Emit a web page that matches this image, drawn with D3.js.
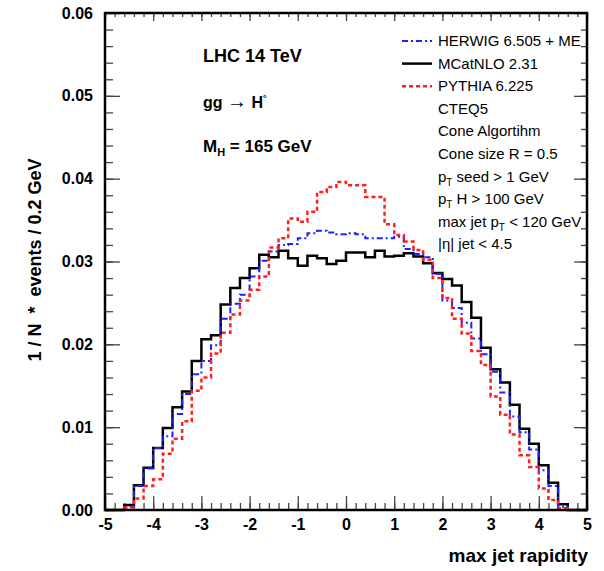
<!DOCTYPE html>
<html>
<head>
<meta charset="utf-8">
<script src="https://cdn.jsdelivr.net/npm/d3@7"></script>
<style>
  body { margin: 0; background: #fff; }
  text { font-family: "Liberation Sans", Arial, sans-serif; }
</style>
</head>
<body>
<div id="chart"></div>
<script>
// histogram: max jet rapidity, 50 bins of 0.2 from -5 to 5
const xMin = -5, xMax = 5, binWidth = 0.2;

const herwig = [
  0, 0, 0.0004, 0.0029, 0.0050, 0.0075, 0.0089, 0.0116, 0.0140, 0.0164,
  0.0180, 0.0199, 0.0231, 0.0249, 0.0260, 0.0282, 0.0301, 0.0312, 0.0320, 0.0321,
  0.0328, 0.0334, 0.0337, 0.0335, 0.0333, 0.0334, 0.0333, 0.0328, 0.0328, 0.0328,
  0.0330, 0.0315, 0.0309, 0.0305, 0.0285, 0.0253, 0.0244, 0.0226, 0.0207, 0.0188,
  0.0167, 0.0142, 0.0113, 0.0094, 0.0073, 0.0048, 0.0029, 0.0004, 0, 0
];
const mcatnlo = [
  0, 0, 0.0006, 0.0030, 0.0051, 0.0075, 0.0099, 0.0124, 0.0143, 0.0180,
  0.0206, 0.0211, 0.0248, 0.0268, 0.0280, 0.0292, 0.0308, 0.0305, 0.0313, 0.0304,
  0.0295, 0.0307, 0.0304, 0.0297, 0.0301, 0.0311, 0.0311, 0.0305, 0.0313, 0.0306,
  0.0307, 0.0310, 0.0306, 0.0298, 0.0286, 0.0279, 0.0271, 0.0251, 0.0232, 0.0196,
  0.0170, 0.0154, 0.0127, 0.0098, 0.0080, 0.0054, 0.0033, 0.0007, 0, 0
];
const pythia = [
  0, 0, 0.0003, 0.0014, 0.0029, 0.0037, 0.0068, 0.0086, 0.0107, 0.0144,
  0.0160, 0.0189, 0.0214, 0.0236, 0.0253, 0.0266, 0.0282, 0.0317, 0.0328, 0.0352,
  0.0348, 0.0360, 0.0384, 0.0390, 0.0396, 0.0392, 0.0392, 0.0378, 0.0378, 0.0345,
  0.0332, 0.0324, 0.0314, 0.0302, 0.0280, 0.0256, 0.0231, 0.0213, 0.0192, 0.0175,
  0.0137, 0.0115, 0.0091, 0.0066, 0.0052, 0.0026, 0.0012, 0.0002, 0, 0
];

const xTicks = [-5, -4, -3, -2, -1, 0, 1, 2, 3, 4, 5];
const yTicks = [0, 0.01, 0.02, 0.03, 0.04, 0.05, 0.06];

const legendNames = ["HERWIG 6.505 + ME", "MCatNLO 2.31", "PYTHIA 6.225"];
// text lines under the legend, [text, subscript, rest]
const infoLines = [
  ["CTEQ5", "", ""],
  ["Cone Algortihm", "", ""],
  ["Cone size R = 0.5", "", ""],
  ["p", "T", " seed > 1 GeV"],
  ["p", "T", " H > 100 GeV"],
  ["max jet p", "T", " < 120 GeV"],
  ["|\u03b7| jet < 4.5", "", ""]
];

// layout
const W = 604, H = 571;
const margin = {top: 13, right: 17, bottom: 61, left: 105};
const width = W - margin.left - margin.right;
const height = H - margin.top - margin.bottom;

const svg = d3.select("#chart").append("svg")
  .attr("width", W)
  .attr("height", H)
  .style("background", "#fff");

const g = svg.append("g")
  .attr("transform", "translate(" + margin.left + "," + margin.top + ")");

const x = d3.scaleLinear().domain([xMin, xMax]).range([0, width]);
const y = d3.scaleLinear().domain([0, 0.06]).range([height, 0]);

const xMinor = d3.range(xMin, xMax + 0.001, binWidth);
const yMinor = d3.range(0, 0.0601, 0.002);

function styleAxis(sel) {
  sel.select(".domain").remove();
  sel.selectAll(".tick line").attr("stroke", "#444").attr("stroke-width", 1.3);
  sel.selectAll("text")
    .attr("fill", "#000")
    .style("font-size", "16px")
    .style("font-weight", "bold");
}

// bottom axis
g.append("g").attr("transform", "translate(0," + height + ")")
  .call(d3.axisBottom(x).tickValues(xMinor).tickFormat("").tickSize(-7))
  .call(styleAxis);
g.append("g").attr("transform", "translate(0," + height + ")")
  .call(d3.axisBottom(x).tickValues(xTicks).tickFormat(d => String(d)).tickSize(-14).tickPadding(9))
  .call(styleAxis);

// top axis
g.append("g")
  .call(d3.axisTop(x).tickValues(xMinor).tickFormat("").tickSize(-4))
  .call(styleAxis);
g.append("g")
  .call(d3.axisTop(x).tickValues(xTicks).tickFormat("").tickSize(-8))
  .call(styleAxis);

// left axis
g.append("g")
  .call(d3.axisLeft(y).tickValues(yMinor).tickFormat("").tickSize(-8))
  .call(styleAxis);
g.append("g")
  .call(d3.axisLeft(y).tickValues(yTicks).tickFormat(d3.format(".2f")).tickSize(-15).tickPadding(12))
  .call(styleAxis);

// right axis
g.append("g").attr("transform", "translate(" + width + ",0)")
  .call(d3.axisRight(y).tickValues(yMinor).tickFormat("").tickSize(-6))
  .call(styleAxis);
g.append("g").attr("transform", "translate(" + width + ",0)")
  .call(d3.axisRight(y).tickValues(yTicks).tickFormat("").tickSize(-13))
  .call(styleAxis);

// step lines
const line = d3.line()
  .x(d => x(d[0]))
  .y(d => y(d[1]))
  .curve(d3.curveStepAfter);

function stepPoints(vals) {
  const pts = vals.map((v, i) => [xMin + i * binWidth, v]);
  pts.push([xMax, vals[vals.length - 1]]);
  return pts;
}

const series = [
  {vals: herwig, color: "#1f1fff", width: 2, dash: "6,3,2,3"},
  {vals: mcatnlo, color: "#000", width: 2.5, dash: null},
  {vals: pythia, color: "#ff1f1f", width: 2.5, dash: "4,3"}
];

// draw black first, then blue, red on top
[1, 0, 2].forEach(i => {
  const s = series[i];
  g.append("path")
    .datum(stepPoints(s.vals))
    .attr("fill", "none")
    .attr("stroke", s.color)
    .attr("stroke-width", s.width)
    .attr("stroke-dasharray", s.dash)
    .attr("d", line);
});

// frame
g.append("rect")
  .attr("width", width).attr("height", height)
  .attr("fill", "none").attr("stroke", "#000").attr("stroke-width", 2.5);

// axis titles
svg.append("text")
  .attr("x", 588).attr("y", 562)
  .attr("text-anchor", "end")
  .style("font-size", "19px").style("font-weight", "bold")
  .text("max jet rapidity");

svg.append("text")
  .attr("transform", "translate(41,260) rotate(-90)")
  .attr("text-anchor", "middle")
  .attr("xml:space", "preserve")
  .style("white-space", "pre")
  .style("font-size", "18px").style("font-weight", "bold")
  .text("1 / N  *  events / 0.2 GeV");

// physics labels
svg.append("text")
  .attr("x", 203).attr("y", 62)
  .style("font-size", "18px").style("font-weight", "bold")
  .text("LHC 14 TeV");

const gg = svg.append("text")
  .attr("x", 203).attr("y", 108)
  .style("font-size", "16px").style("font-weight", "bold");
gg.append("tspan").text("gg ");
gg.append("tspan").style("font-size", "20px").style("font-weight", "normal").text("\u2192");
gg.append("tspan").text(" H");
gg.append("tspan").attr("dy", -7).style("font-size", "9px").text("\u00b0");

const mh = svg.append("text")
  .attr("x", 203).attr("y", 152)
  .style("font-size", "17px").style("font-weight", "bold");
mh.append("tspan").text("M");
mh.append("tspan").attr("dy", 4).style("font-size", "11px").text("H");
mh.append("tspan").attr("dy", -4).text(" = 165 GeV");

// legend
const legX = 402, legTextX = 438, legY0 = 46, legStep = 22.6;
series.forEach((s, row) => {
  const yy = legY0 + row * legStep;
  svg.append("line")
    .attr("x1", legX).attr("x2", legX + 30)
    .attr("y1", yy - 5).attr("y2", yy - 5)
    .attr("stroke", s.color).attr("stroke-width", s.width)
    .attr("stroke-dasharray", s.dash);
  svg.append("text")
    .attr("x", legTextX).attr("y", yy)
    .style("font-size", "15px")
    .text(legendNames[row]);
});

infoLines.forEach((parts, i) => {
  const yy = legY0 + (i + 3) * legStep;
  const t = svg.append("text")
    .attr("x", legTextX).attr("y", yy)
    .style("font-size", "15px");
  t.append("tspan").text(parts[0]);
  if (parts[1]) {
    t.append("tspan").attr("dy", 4).style("font-size", "10px").text(parts[1]);
    t.append("tspan").attr("dy", -4).text(parts[2]);
  }
});
</script>
</body>
</html>
